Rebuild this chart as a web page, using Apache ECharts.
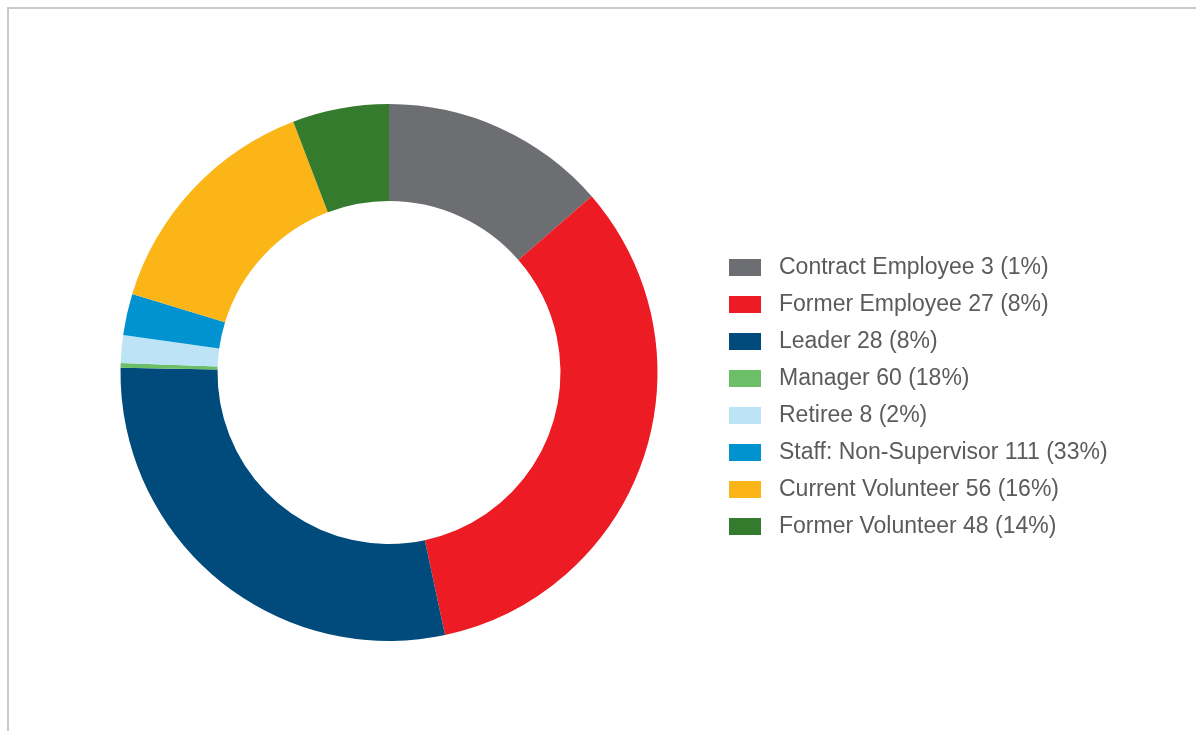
<!DOCTYPE html>
<html>
<head>
<meta charset="utf-8">
<script src="https://cdn.jsdelivr.net/npm/echarts@6/dist/echarts.min.js"></script>
<style>
  html, body { margin: 0; padding: 0; background: #ffffff; }
  #frame { position: absolute; left: 7px; top: 7px; width: 1189px; height: 724px;
           border-top: 2px solid #c9c9c9; border-left: 2px solid #c9c9c9; box-sizing: border-box; }
  #chart { position: absolute; left: 0; top: 0; width: 1196px; height: 731px; }
</style>
</head>
<body>
<div id="frame"></div>
<div id="chart"></div>
<script>
// Legend categories and the figures printed in the legend
const categories = ["Contract Employee", "Former Employee", "Leader", "Manager", "Retiree", "Staff: Non-Supervisor", "Current Volunteer", "Former Volunteer"];
const legendCounts = [3, 27, 28, 60, 8, 111, 56, 48];
const legendPercents = [1, 8, 8, 18, 2, 33, 16, 14];
// Slice sizes as drawn in the picture (degrees of the ring)
const sliceValues = [49.0, 119.0, 103.1, 1.0, 6.0, 9.0, 52.1, 20.9];
const colors = ["#6d6e71", "#ed1c24", "#004a7c", "#6dbf67", "#bde3f7", "#0093d0", "#fbb517", "#347b2e"];

const names = categories.map((c, i) => `${c} ${legendCounts[i]} (${legendPercents[i]}%)`);
const data = names.map((n, i) => ({ name: n, value: sliceValues[i], itemStyle: { color: colors[i] } }));

const chart = echarts.init(document.getElementById('chart'), null, { renderer: 'canvas' });
chart.setOption({
  animation: false,
  backgroundColor: 'transparent',
  legend: {
    orient: 'vertical',
    left: 724,
    top: 251,
    itemWidth: 32,
    itemHeight: 17,
    itemGap: 14,
    icon: 'rect',
    selectedMode: false,
    textStyle: {
      fontFamily: 'Liberation Sans',
      fontSize: 23,
      color: '#5a5b5d',
      padding: [0, 0, 0, 13]
    },
    data: names
  },
  series: [{
    type: 'pie',
    center: [389, 372.5],
    radius: [171.5, 268.5],
    startAngle: 90,
    clockwise: true,
    label: { show: false },
    labelLine: { show: false },
    emphasis: { disabled: true },
    itemStyle: { borderWidth: 0 },
    data: data
  }]
});
</script>
</body>
</html>
